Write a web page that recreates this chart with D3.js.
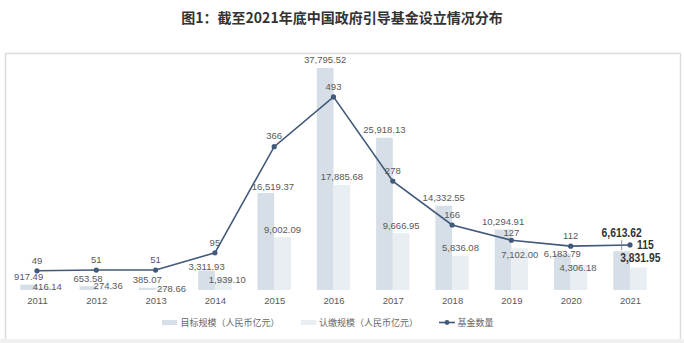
<!DOCTYPE html>
<html><head><meta charset="utf-8">
<script src="https://cdn.jsdelivr.net/npm/d3@7"></script>
<style>
body{margin:0;background:#fff;}
svg{display:block;}
</style></head>
<body>
<svg id="chart" width="684" height="343"></svg>
<script>
// ---- data ----
const years = ["2011","2012","2013","2014","2015","2016","2017","2018","2019","2020","2021"];
const targetScale = [917.49,653.58,385.07,3311.93,16519.37,37795.52,25918.13,14332.55,10294.91,6183.79,6613.62];
const subscribedScale = [416.14,274.36,278.66,1939.10,9002.09,17885.68,9666.95,5836.08,7102.00,4306.18,3831.95];
const fundCount = [49,51,51,95,366,493,278,166,127,112,115];
const seriesNames = ["目标规模（人民币亿元）","认缴规模（人民币亿元）","基金数量"];
const titleText = "图1：截至2021年底中国政府引导基金设立情况分布";

// ---- label layout tweaks (pixel nudges, style only) ----
const nudgeTarget = {"2014":[0,3.5],"2015":[7,2],"2020":[0,8],"2021":[0,-10]};
const nudgeSub = {"2011":[2,6.5],"2012":[3.5,5.5],"2013":[7.5,8],"2014":[4,8.7],"2019":[0,14.7],"2020":[-1,10.6],"2021":[2,-1.5]};
const nudgeCount = {"2019":[0,3]};
const highlightYear = "2021";

const W = 684, H = 343;
const colTarget = "#d6dee7", colSub = "#e9eef3", colLine = "#41597a", colText = "#595959";
const svg = d3.select("#chart");

// frame
svg.append("rect").attr("x",0).attr("y",339).attr("width",W).attr("height",4).attr("fill","#f0f0f0");
svg.append("path").attr("d","M5.5,339 V53.5 H680.5 V339").attr("fill","none").attr("stroke","#dcdcdc").attr("stroke-width",1.5);

// title
svg.append("text").attr("x",W/2).attr("y",23).attr("text-anchor","middle")
  .attr("font-family","'Noto Sans CJK SC',sans-serif").attr("font-weight","bold")
  .attr("font-size",14).attr("fill","#333").text(titleText);

// scales
const x = d3.scalePoint().domain(years).range([7.35,659.65]).padding(0.5);
const barW = 16.7;
const yBar = d3.scaleLinear().domain([0,40000]).range([290,55]);
const yLine = d3.scaleLinear().domain([0,600]).range([290,55]);
const fmt = d3.format(",.2f");

const data = years.map((y,i)=>({year:y,t:targetScale[i],s:subscribedScale[i],c:fundCount[i]}));

// bars
const g = svg.append("g");
g.selectAll(".bt").data(data).join("rect").attr("class","bt")
  .attr("x",d=>x(d.year)-barW).attr("width",barW)
  .attr("y",d=>yBar(d.t)).attr("height",d=>yBar(0)-yBar(d.t)).attr("fill",colTarget);
g.selectAll(".bs").data(data).join("rect").attr("class","bs")
  .attr("x",d=>x(d.year)).attr("width",barW)
  .attr("y",d=>yBar(d.s)).attr("height",d=>yBar(0)-yBar(d.s)).attr("fill",colSub);

// line
const line = d3.line().x(d=>x(d.year)).y(d=>yLine(d.c));
g.append("path").datum(data).attr("d",line).attr("fill","none").attr("stroke",colLine).attr("stroke-width",1.6);
g.selectAll(".pt").data(data).join("circle").attr("class","pt")
  .attr("cx",d=>x(d.year)).attr("cy",d=>yLine(d.c)).attr("r",2.6).attr("fill",colLine);

// labels
function labelStyle(sel, hl){
  sel.attr("text-anchor","middle").attr("dominant-baseline","central");
  if(hl){
    sel.attr("font-family","'Liberation Sans',Arial,sans-serif")
      .attr("font-weight","bold").attr("font-size",12).attr("fill","#333");
    const n = sel.node();
    const w = n.getComputedTextLength();
    sel.attr("textLength",w*0.86).attr("lengthAdjust","spacingAndGlyphs");
  } else {
    sel.attr("font-family","'Liberation Sans',Arial,sans-serif").attr("font-size",9.5).attr("fill",colText);
  }
}
data.forEach(d=>{
  const hl = d.year===highlightYear;
  const nt = nudgeTarget[d.year]||[0,0];
  const ns = nudgeSub[d.year]||[0,0];
  const nc = nudgeCount[d.year]||[0,0];
  const tx = x(d.year)-barW/2 + nt[0], ty = yBar(d.t)-8 + nt[1];
  g.append("text").attr("x",tx).attr("y",ty).text(fmt(d.t)).call(labelStyle,hl);
  g.append("text").attr("x",x(d.year)+barW/2+ns[0]).attr("y",yBar(d.s)-8+ns[1]).text(fmt(d.s)).call(labelStyle,hl);
  if(hl){
    g.append("line").attr("x1",tx).attr("x2",tx).attr("y1",ty+7).attr("y2",yBar(d.t)-1)
      .attr("stroke","#777").attr("stroke-width",0.8);
    g.append("text").attr("x",x(d.year)+7).attr("y",yLine(d.c)).text(d.c).call(labelStyle,true).attr("text-anchor","start");
  } else {
    g.append("text").attr("x",x(d.year)+nc[0]).attr("y",yLine(d.c)-10.7+nc[1]).text(d.c).call(labelStyle,false);
  }
});

// x axis
const ax = svg.append("g").attr("transform","translate(0,295)")
  .call(d3.axisBottom(x).tickSize(0).tickPadding(2));
ax.select(".domain").remove();
ax.selectAll("text").attr("font-family","'Liberation Sans',Arial,sans-serif").attr("font-size",9.5).attr("fill",colText);

// legend
const lg = svg.append("g").attr("font-family","'Noto Sans CJK SC',sans-serif").attr("font-size",9).attr("fill","#666");
lg.append("rect").attr("x",162).attr("y",320).attr("width",15).attr("height",5).attr("fill",colTarget);
lg.append("text").attr("x",180.5).attr("y",322.5).attr("dominant-baseline","central").text(seriesNames[0]);
lg.append("rect").attr("x",301).attr("y",320).attr("width",15).attr("height",5).attr("fill",colSub);
lg.append("text").attr("x",319).attr("y",322.5).attr("dominant-baseline","central").text(seriesNames[1]);
lg.append("line").attr("x1",439).attr("x2",455).attr("y1",322.5).attr("y2",322.5).attr("stroke",colLine).attr("stroke-width",1.6);
lg.append("circle").attr("cx",447).attr("cy",322.5).attr("r",2.4).attr("fill",colLine);
lg.append("text").attr("x",457.5).attr("y",322.5).attr("dominant-baseline","central").text(seriesNames[2]);
</script>
</body></html>
